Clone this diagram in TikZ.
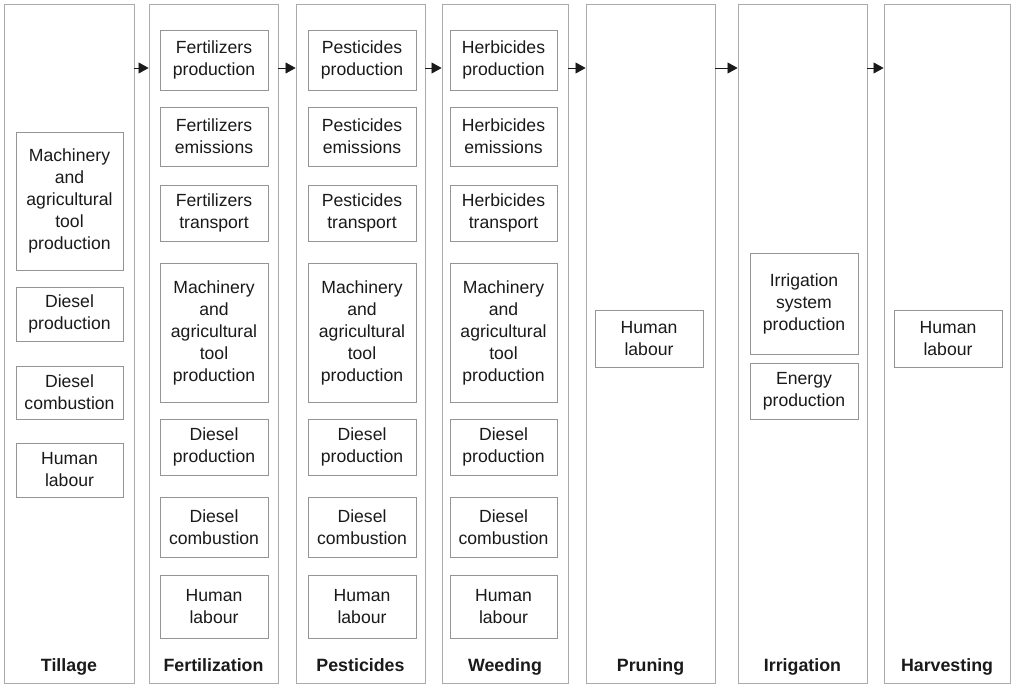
\documentclass[tikz,border=0pt]{standalone}
\usepackage{fontspec}
\setmainfont{Liberation Sans}
\usetikzlibrary{arrows.meta}
\definecolor{txt}{HTML}{1A1A1A}
\definecolor{outerc}{HTML}{ABABAB}
\definecolor{innerc}{HTML}{959595}
\tikzset{
  colbox/.style={draw=outerc, line width=0.9pt, rectangle, inner sep=0pt, minimum height=679pt},
  itembox/.style={draw=innerc, line width=0.8pt, rectangle, inner sep=0pt, align=center,
    text=txt, font=\fontsize{17.6}{22}\selectfont},
  coltitle/.style={text=txt, font=\fontsize{17.8}{20}\selectfont\bfseries, inner sep=0pt, anchor=base},
  flow/.style={draw=txt, line width=0.6pt, -{Triangle[length=10pt,width=11pt]}}
}
\begin{document}
\begin{tikzpicture}[x=1pt,y=-1pt]
\useasboundingbox (0,0) rectangle (1011,685);
\fill[white] (0,0) rectangle (1011,685);
% columns
\node[colbox, minimum width=130pt] (T) at (69,343.5) {};
\node[colbox, minimum width=129pt] (F) at (213.5,343.5) {};
\node[colbox, minimum width=129pt] (P) at (360.5,343.5) {};
\node[colbox, minimum width=126pt] (W) at (505,343.5) {};
\node[colbox, minimum width=129pt] (Pr) at (650.5,343.5) {};
\node[colbox, minimum width=129pt] (I) at (802.5,343.5) {};
\node[colbox, minimum width=126pt] (H) at (947,343.5) {};
% titles
\node[coltitle] (Tt) at (69,671) {Tillage};
\node[coltitle] (Ft) at (213.5,671) {Fertilization};
\node[coltitle] (Pt) at (360.5,671) {Pesticides};
\node[coltitle] (Wt) at (505,671) {Weeding};
\node[coltitle] (Prt) at (650.5,671) {Pruning};
\node[coltitle] (It) at (802.5,671) {Irrigation};
\node[coltitle] (Ht) at (947,671) {Harvesting};
% Tillage items
\node[itembox, minimum width=107pt, minimum height=138pt] (T1) at (69.5,201) {Machinery\\and\\agricultural\\tool\\production};
\node[itembox, minimum width=107pt, minimum height=54pt] (T2) at (69.5,314) {Diesel\\production};
\node[itembox, minimum width=107pt, minimum height=53pt] (T3) at (69.5,392.5) {Diesel\\combustion};
\node[itembox, minimum width=107pt, minimum height=54pt] (T4) at (69.5,470) {Human\\labour};
% Fertilization items
\node[itembox, minimum width=108pt, minimum height=60pt] (F1) at (214,60) {Fertilizers\\production};
\node[itembox, minimum width=108pt, minimum height=59pt] (F2) at (214,136.5) {Fertilizers\\emissions};
\node[itembox, minimum width=108pt, minimum height=56pt] (F3) at (214,213) {Fertilizers\\transport};
\node[itembox, minimum width=108pt, minimum height=139pt] (F4) at (214,332.5) {Machinery\\and\\agricultural\\tool\\production};
\node[itembox, minimum width=108pt, minimum height=56pt] (F5) at (214,447) {Diesel\\production};
\node[itembox, minimum width=108pt, minimum height=60pt] (F6) at (214,527) {Diesel\\combustion};
\node[itembox, minimum width=108pt, minimum height=63pt] (F7) at (214,606.5) {Human\\labour};
% Pesticides items
\node[itembox, minimum width=108pt, minimum height=60pt] (P1) at (362,60) {Pesticides\\production};
\node[itembox, minimum width=108pt, minimum height=59pt] (P2) at (362,136.5) {Pesticides\\emissions};
\node[itembox, minimum width=108pt, minimum height=56pt] (P3) at (362,213) {Pesticides\\transport};
\node[itembox, minimum width=108pt, minimum height=139pt] (P4) at (362,332.5) {Machinery\\and\\agricultural\\tool\\production};
\node[itembox, minimum width=108pt, minimum height=56pt] (P5) at (362,447) {Diesel\\production};
\node[itembox, minimum width=108pt, minimum height=60pt] (P6) at (362,527) {Diesel\\combustion};
\node[itembox, minimum width=108pt, minimum height=63pt] (P7) at (362,606.5) {Human\\labour};
% Weeding items
\node[itembox, minimum width=107pt, minimum height=60pt] (W1) at (503.5,60) {Herbicides\\production};
\node[itembox, minimum width=107pt, minimum height=59pt] (W2) at (503.5,136.5) {Herbicides\\emissions};
\node[itembox, minimum width=107pt, minimum height=56pt] (W3) at (503.5,213) {Herbicides\\transport};
\node[itembox, minimum width=107pt, minimum height=139pt] (W4) at (503.5,332.5) {Machinery\\and\\agricultural\\tool\\production};
\node[itembox, minimum width=107pt, minimum height=56pt] (W5) at (503.5,447) {Diesel\\production};
\node[itembox, minimum width=107pt, minimum height=60pt] (W6) at (503.5,527) {Diesel\\combustion};
\node[itembox, minimum width=107pt, minimum height=63pt] (W7) at (503.5,606.5) {Human\\labour};
% Pruning
\node[itembox, minimum width=108pt, minimum height=57pt] (Pr1) at (649,338.5) {Human\\labour};
% Irrigation
\node[itembox, minimum width=108pt, minimum height=101pt] (I1) at (804,303.5) {Irrigation\\system\\production};
\node[itembox, minimum width=108pt, minimum height=56pt] (I2) at (804,391) {Energy\\production};
% Harvesting
\node[itembox, minimum width=108pt, minimum height=57pt] (H1) at (948,338.5) {Human\\labour};
% arrows
\coordinate (ay) at (0,68);
\draw[flow] (T.east |- ay) -- (F.west |- ay);
\draw[flow] (F.east |- ay) -- (P.west |- ay);
\draw[flow] (P.east |- ay) -- (W.west |- ay);
\draw[flow] (W.east |- ay) -- (Pr.west |- ay);
\draw[flow] (Pr.east |- ay) -- (I.west |- ay);
\draw[flow] (I.east |- ay) -- (H.west |- ay);
\end{tikzpicture}
\end{document}
